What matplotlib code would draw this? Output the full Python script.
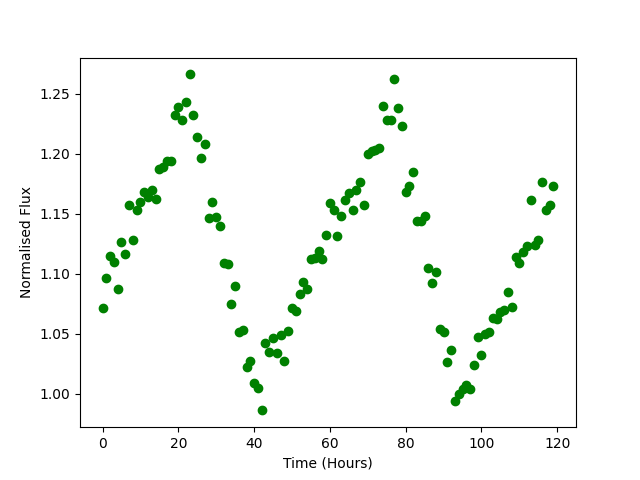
import numpy as np
import matplotlib
matplotlib.use("Agg")
import matplotlib.pyplot as plt

time_hours = list(range(120))
flux = [1.071, 1.096, 1.115, 1.110, 1.087, 1.126, 1.116, 1.157, 1.128, 1.153,
        1.160, 1.168, 1.164, 1.170, 1.162, 1.187, 1.189, 1.194, 1.194, 1.232,
        1.239, 1.228, 1.243, 1.266, 1.232, 1.214, 1.196, 1.208, 1.146, 1.160,
        1.147, 1.140, 1.109, 1.108, 1.075, 1.090, 1.051, 1.053, 1.022, 1.027,
        1.009, 1.005, 0.986, 1.042, 1.035, 1.046, 1.034, 1.049, 1.027, 1.052,
        1.071, 1.069, 1.083, 1.093, 1.087, 1.112, 1.113, 1.119, 1.112, 1.132,
        1.159, 1.153, 1.131, 1.148, 1.161, 1.167, 1.153, 1.170, 1.176, 1.157,
        1.200, 1.202, 1.203, 1.205, 1.240, 1.228, 1.228, 1.262, 1.238, 1.223,
        1.168, 1.173, 1.185, 1.144, 1.144, 1.148, 1.105, 1.092, 1.101, 1.054,
        1.051, 1.026, 1.036, 0.994, 1.000, 1.004, 1.007, 1.004, 1.024, 1.047,
        1.032, 1.050, 1.051, 1.063, 1.062, 1.068, 1.070, 1.085, 1.072, 1.114,
        1.109, 1.118, 1.123, 1.161, 1.124, 1.128, 1.176, 1.153, 1.157, 1.173]

fig, ax = plt.subplots(figsize=(6.4, 4.8), dpi=100)
ax.plot(time_hours, flux, 'o', color='green')
ax.set_xlabel('Time (Hours)')
ax.set_ylabel('Normalised Flux')
fig.savefig('out.png')
